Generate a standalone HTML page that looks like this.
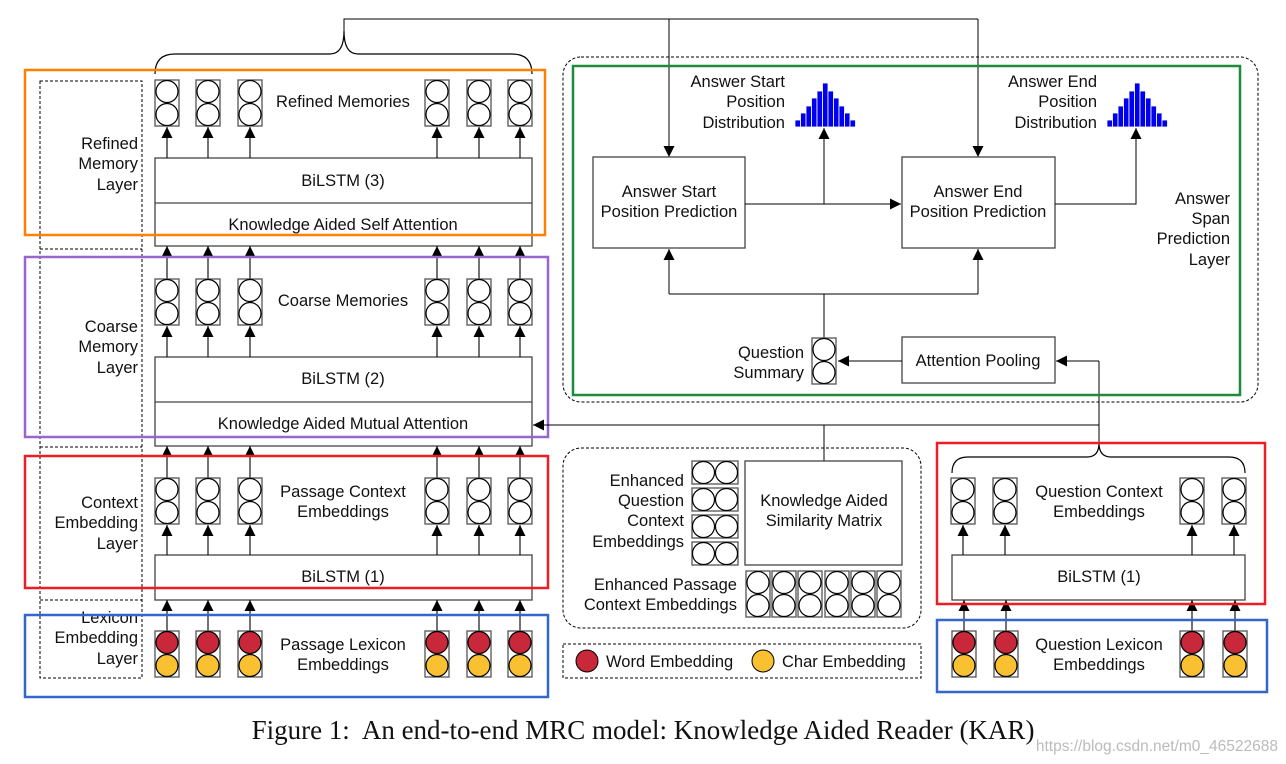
<!DOCTYPE html>
<html><head><meta charset="utf-8"><style>
html,body{margin:0;padding:0;background:#fff;}
svg{display:block;}
text{font-family:"Liberation Sans",sans-serif;font-size:16.5px;fill:#111;}
</style></head><body>
<svg width="1286" height="764" viewBox="0 0 1286 764" xmlns="http://www.w3.org/2000/svg">
<defs>
<marker id="ar" viewBox="0 0 10 10" refX="10" refY="5" markerWidth="14" markerHeight="11" markerUnits="userSpaceOnUse" orient="auto"><path d="M0,0 L10,5 L0,10 z" fill="#000"/></marker>
<g id="c"><rect x="-12" y="0" width="24" height="46" fill="#fff" stroke="#555" stroke-width="1.3"/><circle cx="0" cy="11.5" r="11" fill="#fff" stroke="#000" stroke-width="1.2"/><circle cx="0" cy="34.5" r="11" fill="#fff" stroke="#000" stroke-width="1.2"/></g>
<g id="l"><rect x="-12" y="0" width="24" height="46" fill="#fff" stroke="#555" stroke-width="1.3"/><circle cx="0" cy="11.5" r="11" fill="#c8283a" stroke="#000" stroke-width="1.2"/><circle cx="0" cy="34.5" r="11" fill="#f9c132" stroke="#000" stroke-width="1.2"/></g>
<g id="h"><rect x="0" y="0" width="46" height="23" fill="#fff" stroke="#555" stroke-width="1.3"/><circle cx="11.5" cy="11.5" r="11" fill="#fff" stroke="#000" stroke-width="1.2"/><circle cx="34.5" cy="11.5" r="11" fill="#fff" stroke="#000" stroke-width="1.2"/></g>
<g id="hist" fill="#0000ee" stroke="#fff" stroke-width="0.8"><rect x="0" y="38" width="5.5" height="7"/><rect x="5.5" y="31" width="5.5" height="14"/><rect x="11" y="24" width="5.5" height="21"/><rect x="16.5" y="16" width="5.5" height="29"/><rect x="22" y="9" width="5.5" height="36"/><rect x="27.5" y="1" width="5.5" height="44"/><rect x="33" y="9" width="5.5" height="36"/><rect x="38.5" y="16" width="5.5" height="29"/><rect x="44" y="24" width="5.5" height="21"/><rect x="49.5" y="31" width="5.5" height="14"/><rect x="55" y="38" width="5.5" height="7"/></g>
</defs>

<g fill="none" stroke="#000" stroke-width="1" stroke-dasharray="3,2">
<rect x="40" y="81" width="102" height="597"/>
<line x1="40" y1="249" x2="142" y2="249"/><line x1="40" y1="447" x2="142" y2="447"/><line x1="40" y1="600" x2="142" y2="600"/>
</g>
<g text-anchor="end">
<text x="138" y="149">Refined</text><text x="138" y="169">Memory</text><text x="138" y="190">Layer</text>
<text x="138" y="332">Coarse</text><text x="138" y="352">Memory</text><text x="138" y="373">Layer</text>
<text x="138" y="508">Context</text><text x="138" y="528">Embedding</text><text x="138" y="549">Layer</text>
<text x="138" y="623">Lexicon</text><text x="138" y="643">Embedding</text><text x="138" y="664">Layer</text>
</g>

<path d="M155,74 Q155,54 175,54 L330,54 Q344,54 344,31 Q344,54 358,54 L512,54 Q532,54 532,74" fill="none" stroke="#000" stroke-width="1.2"/>
<path d="M344,31 L344,19 L978,19" fill="none" stroke="#000" stroke-width="1"/>
<line x1="669" y1="19" x2="669" y2="157" stroke="#000" marker-end="url(#ar)"/>
<line x1="978" y1="19" x2="978" y2="157" stroke="#000" marker-end="url(#ar)"/>

<g fill="#fff" stroke="#444" stroke-width="1.3">
<rect x="155" y="158" width="377" height="88"/><line x1="155" y1="203" x2="532" y2="203"/>
<rect x="155" y="357" width="377" height="89"/><line x1="155" y1="402" x2="532" y2="402"/>
<rect x="155" y="555" width="377" height="45"/>
</g>
<g text-anchor="middle">
<text x="343" y="186">BiLSTM (3)</text><text x="343" y="230">Knowledge Aided Self Attention</text>
<text x="343" y="384">BiLSTM (2)</text><text x="343" y="429">Knowledge Aided Mutual Attention</text>
<text x="343" y="582">BiLSTM (1)</text>
<text x="343" y="107">Refined Memories</text>
<text x="343" y="306">Coarse Memories</text>
<text x="343" y="497">Passage Context</text><text x="343" y="517">Embeddings</text>
<text x="343" y="650">Passage Lexicon</text><text x="343" y="670">Embeddings</text>
</g>

<g>
<g stroke="#000" stroke-width="1.1" marker-end="url(#ar)">
<line x1="167" y1="158" x2="167" y2="127"/><line x1="208" y1="158" x2="208" y2="127"/><line x1="250" y1="158" x2="250" y2="127"/><line x1="437" y1="158" x2="437" y2="127"/><line x1="479" y1="158" x2="479" y2="127"/><line x1="520" y1="158" x2="520" y2="127"/>
<line x1="167" y1="279" x2="167" y2="246"/><line x1="208" y1="279" x2="208" y2="246"/><line x1="250" y1="279" x2="250" y2="246"/><line x1="437" y1="279" x2="437" y2="246"/><line x1="479" y1="279" x2="479" y2="246"/><line x1="520" y1="279" x2="520" y2="246"/>
<line x1="167" y1="357" x2="167" y2="326"/><line x1="208" y1="357" x2="208" y2="326"/><line x1="250" y1="357" x2="250" y2="326"/><line x1="437" y1="357" x2="437" y2="326"/><line x1="479" y1="357" x2="479" y2="326"/><line x1="520" y1="357" x2="520" y2="326"/>
<line x1="167" y1="478" x2="167" y2="446"/><line x1="208" y1="478" x2="208" y2="446"/><line x1="250" y1="478" x2="250" y2="446"/><line x1="437" y1="478" x2="437" y2="446"/><line x1="479" y1="478" x2="479" y2="446"/><line x1="520" y1="478" x2="520" y2="446"/>
<line x1="167" y1="555" x2="167" y2="525"/><line x1="208" y1="555" x2="208" y2="525"/><line x1="250" y1="555" x2="250" y2="525"/><line x1="437" y1="555" x2="437" y2="525"/><line x1="479" y1="555" x2="479" y2="525"/><line x1="520" y1="555" x2="520" y2="525"/>
<line x1="167" y1="631" x2="167" y2="600"/><line x1="208" y1="631" x2="208" y2="600"/><line x1="250" y1="631" x2="250" y2="600"/><line x1="437" y1="631" x2="437" y2="600"/><line x1="479" y1="631" x2="479" y2="600"/><line x1="520" y1="631" x2="520" y2="600"/>
</g>
<use href="#c" x="167" y="80"/><use href="#c" x="208" y="80"/><use href="#c" x="250" y="80"/><use href="#c" x="437" y="80"/><use href="#c" x="479" y="80"/><use href="#c" x="520" y="80"/>
<use href="#c" x="167" y="279"/><use href="#c" x="208" y="279"/><use href="#c" x="250" y="279"/><use href="#c" x="437" y="279"/><use href="#c" x="479" y="279"/><use href="#c" x="520" y="279"/>
<use href="#c" x="167" y="478"/><use href="#c" x="208" y="478"/><use href="#c" x="250" y="478"/><use href="#c" x="437" y="478"/><use href="#c" x="479" y="478"/><use href="#c" x="520" y="478"/>
<use href="#l" x="167" y="631"/><use href="#l" x="208" y="631"/><use href="#l" x="250" y="631"/><use href="#l" x="437" y="631"/><use href="#l" x="479" y="631"/><use href="#l" x="520" y="631"/>
</g>

<g fill="none" stroke-width="2.5">
<rect x="25" y="70" width="520" height="165" stroke="#ff8000"/>
<rect x="25" y="257" width="523" height="180" stroke="#9966cc"/>
<rect x="25" y="456" width="523" height="132" stroke="#ee1c25"/>
<rect x="25" y="615" width="523" height="82" stroke="#3366cc"/>
</g>

<line x1="1099" y1="425" x2="533" y2="425" stroke="#000" stroke-width="1" marker-end="url(#ar)"/>
<line x1="824" y1="425" x2="824" y2="461" stroke="#000"/>
<path d="M1099,443 L1099,361" stroke="#000" fill="none"/>
<line x1="1099" y1="361" x2="1056" y2="361" stroke="#000" marker-end="url(#ar)"/>

<rect x="563" y="57" width="695" height="345" rx="18" fill="none" stroke="#000" stroke-dasharray="3,2"/>
<rect x="573" y="66" width="667" height="329" fill="none" stroke="#1e8a3c" stroke-width="2.5"/>
<rect x="593" y="157" width="152" height="91" fill="#fff" stroke="#444" stroke-width="1.3"/>
<rect x="902" y="157" width="153" height="91" fill="#fff" stroke="#444" stroke-width="1.3"/>
<g text-anchor="middle">
<text x="669" y="197">Answer Start</text><text x="669" y="217">Position Prediction</text>
<text x="978" y="197">Answer End</text><text x="978" y="217">Position Prediction</text>
</g>
<g text-anchor="end">
<text x="785" y="87">Answer Start</text><text x="785" y="107">Position</text><text x="785" y="128">Distribution</text>
<text x="1097" y="87">Answer End</text><text x="1097" y="107">Position</text><text x="1097" y="128">Distribution</text>
<text x="1230" y="204">Answer</text><text x="1230" y="224">Span</text><text x="1230" y="244">Prediction</text><text x="1230" y="265">Layer</text>
<text x="804" y="358">Question</text><text x="804" y="378">Summary</text>
</g>
<use href="#hist" x="795" y="82"/>
<use href="#hist" x="1107" y="82"/>
<line x1="745" y1="204" x2="901" y2="204" stroke="#000" marker-end="url(#ar)"/>
<line x1="824" y1="204" x2="824" y2="128" stroke="#000" marker-end="url(#ar)"/>
<path d="M1055,204 L1136,204 L1136,128" fill="none" stroke="#000" marker-end="url(#ar)"/>
<path d="M669,294 L978,294" stroke="#000" fill="none"/>
<line x1="669" y1="294" x2="669" y2="249" stroke="#000" marker-end="url(#ar)"/>
<line x1="978" y1="294" x2="978" y2="249" stroke="#000" marker-end="url(#ar)"/>
<line x1="824" y1="294" x2="824" y2="338" stroke="#000"/>
<use href="#c" x="824" y="338"/>
<rect x="902" y="337" width="153" height="46" fill="#fff" stroke="#444" stroke-width="1.3"/>
<text x="978" y="366" text-anchor="middle">Attention Pooling</text>
<line x1="902" y1="361" x2="838" y2="361" stroke="#000" marker-end="url(#ar)"/>

<rect x="563" y="448" width="358" height="180" rx="18" fill="none" stroke="#000" stroke-dasharray="3,2"/>
<rect x="745" y="461" width="157" height="104" fill="#fff" stroke="#444" stroke-width="1.3"/>
<text x="824" y="506" text-anchor="middle">Knowledge Aided</text><text x="824" y="526" text-anchor="middle">Similarity Matrix</text>
<use href="#h" x="692" y="461"/><use href="#h" x="692" y="488"/><use href="#h" x="692" y="515"/><use href="#h" x="692" y="542"/>
<g text-anchor="end">
<text x="684" y="486">Enhanced</text><text x="684" y="506">Question</text><text x="684" y="526">Context</text><text x="684" y="547">Embeddings</text>
<text x="737" y="590">Enhanced Passage</text><text x="737" y="610">Context Embeddings</text>
</g>
<use href="#c" x="758" y="571"/><use href="#c" x="784" y="571"/><use href="#c" x="810" y="571"/><use href="#c" x="837" y="571"/><use href="#c" x="863" y="571"/><use href="#c" x="889" y="571"/>

<rect x="563" y="644" width="358" height="34" fill="none" stroke="#000" stroke-dasharray="3,2"/>
<circle cx="587" cy="661" r="11" fill="#c8283a" stroke="#000"/><text x="606" y="667">Word Embedding</text>
<circle cx="763" cy="661" r="11" fill="#f9c132" stroke="#000"/><text x="782" y="667">Char Embedding</text>

<path d="M952,473 Q952,457 968,457 L1087,457 Q1099,457 1099,443 Q1099,457 1111,457 L1229,457 Q1245,457 1245,473" fill="none" stroke="#000" stroke-width="1.2"/>
<rect x="952" y="555" width="293" height="45" fill="#fff" stroke="#444" stroke-width="1.3"/>
<text x="1099" y="582" text-anchor="middle">BiLSTM (1)</text>
<g text-anchor="middle">
<text x="1099" y="497">Question Context</text><text x="1099" y="517">Embeddings</text>
<text x="1099" y="650">Question Lexicon</text><text x="1099" y="670">Embeddings</text>
</g>
<g stroke="#000" stroke-width="1.1" marker-end="url(#ar)">
<line x1="963" y1="555" x2="963" y2="525"/><line x1="1005" y1="555" x2="1005" y2="525"/><line x1="1192" y1="555" x2="1192" y2="525"/><line x1="1234" y1="555" x2="1234" y2="525"/>
<line x1="964" y1="631" x2="964" y2="600"/><line x1="1006" y1="631" x2="1006" y2="600"/><line x1="1192" y1="631" x2="1192" y2="600"/><line x1="1235" y1="631" x2="1235" y2="600"/>
</g>
<use href="#c" x="963" y="478"/><use href="#c" x="1005" y="478"/><use href="#c" x="1192" y="478"/><use href="#c" x="1234" y="478"/>
<use href="#l" x="964" y="631"/><use href="#l" x="1006" y="631"/><use href="#l" x="1192" y="631"/><use href="#l" x="1235" y="631"/>
<rect x="937" y="443" width="328" height="161" fill="none" stroke="#ee1c25" stroke-width="2.5"/>
<rect x="937" y="620" width="330" height="72" fill="none" stroke="#3366cc" stroke-width="2.5"/>

<text x="643" y="739" text-anchor="middle" style="font-family:'Liberation Serif',serif;font-size:27px;white-space:pre" xml:space="preserve">Figure 1:  An end-to-end MRC model: Knowledge Aided Reader (KAR)</text>
<text x="1278" y="751" text-anchor="end" style="font-size:15.5px;fill:#bbbbbb">https://blog.csdn.net/m0_46522688</text>
</svg>
</body></html>
